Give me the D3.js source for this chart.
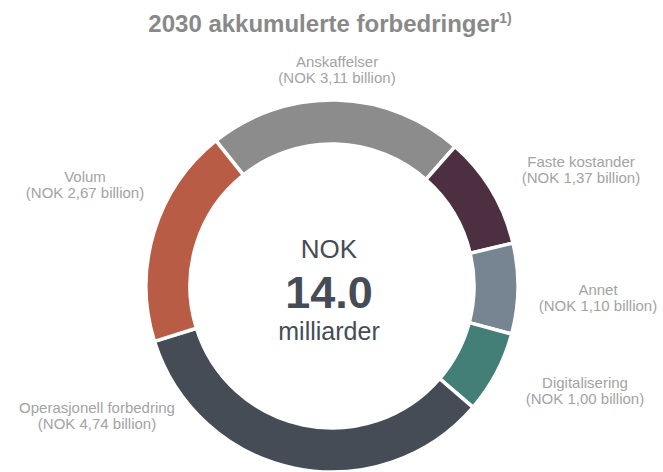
<!DOCTYPE html>
<html>
<head>
<meta charset="utf-8">
<script src="https://cdn.jsdelivr.net/npm/d3@7"></script>
<style>
  body { margin: 0; background: #fff; }
  text { font-family: "Liberation Sans", Arial, sans-serif; }
</style>
</head>
<body>
<script>
// data
const categories = ["Anskaffelser", "Faste kostander", "Annet", "Digitalisering", "Operasjonell forbedring", "Volum"];
const values = [3.11, 1.37, 1.10, 1.00, 4.74, 2.67];
const valueLabels = ["NOK 3,11 billion", "NOK 1,37 billion", "NOK 1,10 billion", "NOK 1,00 billion", "NOK 4,74 billion", "NOK 2,67 billion"];
const colorList = ["#8c8c8c", "#4d2f42", "#778592", "#437f77", "#454c56", "#b95c46"];
const totalLabel = "14.0";

// label anchors relative to the centre (layout only)
const labelOffsets = [[5, -219], [249, -119], [266, 9], [253, 102], [-235, 127], [-247, -104]];

const width = 663, height = 472;
const cx = 332, cy = 286;
const outerR = 186, innerR = 142;

const svg = d3.select('body')
    .append('svg')
    .attr('width', width)
    .attr('height', height);

// title
const title = svg.append('text')
    .attr('x', 330)
    .attr('y', 32)
    .attr('text-anchor', 'middle')
    .style('font-size', '24px')
    .style('font-weight', 'bold')
    .attr('fill', '#898989');
title.append('tspan').text('2030 akkumulerte forbedringer');
title.append('tspan')
    .attr('dy', -9)
    .style('font-size', '14px')
    .text('1)');

const g = svg.append('g')
    .attr('transform', `translate(${cx}, ${cy})`);

const color = d3.scaleOrdinal()
    .domain(categories)
    .range(colorList);

const startAngle = -0.674;
const pie = d3.pie()
    .sort(null)
    .startAngle(startAngle)
    .endAngle(startAngle + 2 * Math.PI)
    .value(d => d.value);

const arc = d3.arc()
    .innerRadius(innerR)
    .outerRadius(outerR);

const pieData = pie(categories.map((c, i) => ({ name: c, value: values[i], label: valueLabels[i], off: labelOffsets[i] })));

g.selectAll('path')
    .data(pieData)
    .enter().append('path')
    .attr('d', arc)
    .attr('fill', d => color(d.data.name))
    .attr('stroke', '#fff')
    .attr('stroke-width', 3.5);

// segment labels
const lbl = g.selectAll('.lbl')
    .data(pieData)
    .enter().append('text')
    .attr('class', 'lbl')
    .attr('text-anchor', 'middle')
    .attr('fill', '#a3a3a3')
    .style('font-size', '15px');
lbl.append('tspan')
    .attr('x', d => d.data.off[0])
    .attr('y', d => d.data.off[1])
    .text(d => d.data.name);
lbl.append('tspan')
    .attr('x', d => d.data.off[0])
    .attr('y', d => d.data.off[1] + 16)
    .text(d => `(${d.data.label})`);

// centre text
g.append('text')
    .attr('x', -3).attr('y', -28)
    .attr('text-anchor', 'middle')
    .attr('fill', '#454c56')
    .style('font-size', '26px')
    .text('NOK');
g.append('text')
    .attr('x', -3).attr('y', 22)
    .attr('text-anchor', 'middle')
    .attr('fill', '#454c56')
    .style('font-size', '45px')
    .style('font-weight', 'bold')
    .text(totalLabel);
g.append('text')
    .attr('x', -3).attr('y', 54)
    .attr('text-anchor', 'middle')
    .attr('fill', '#454c56')
    .style('font-size', '25px')
    .text('milliarder');
</script>
</body>
</html>
